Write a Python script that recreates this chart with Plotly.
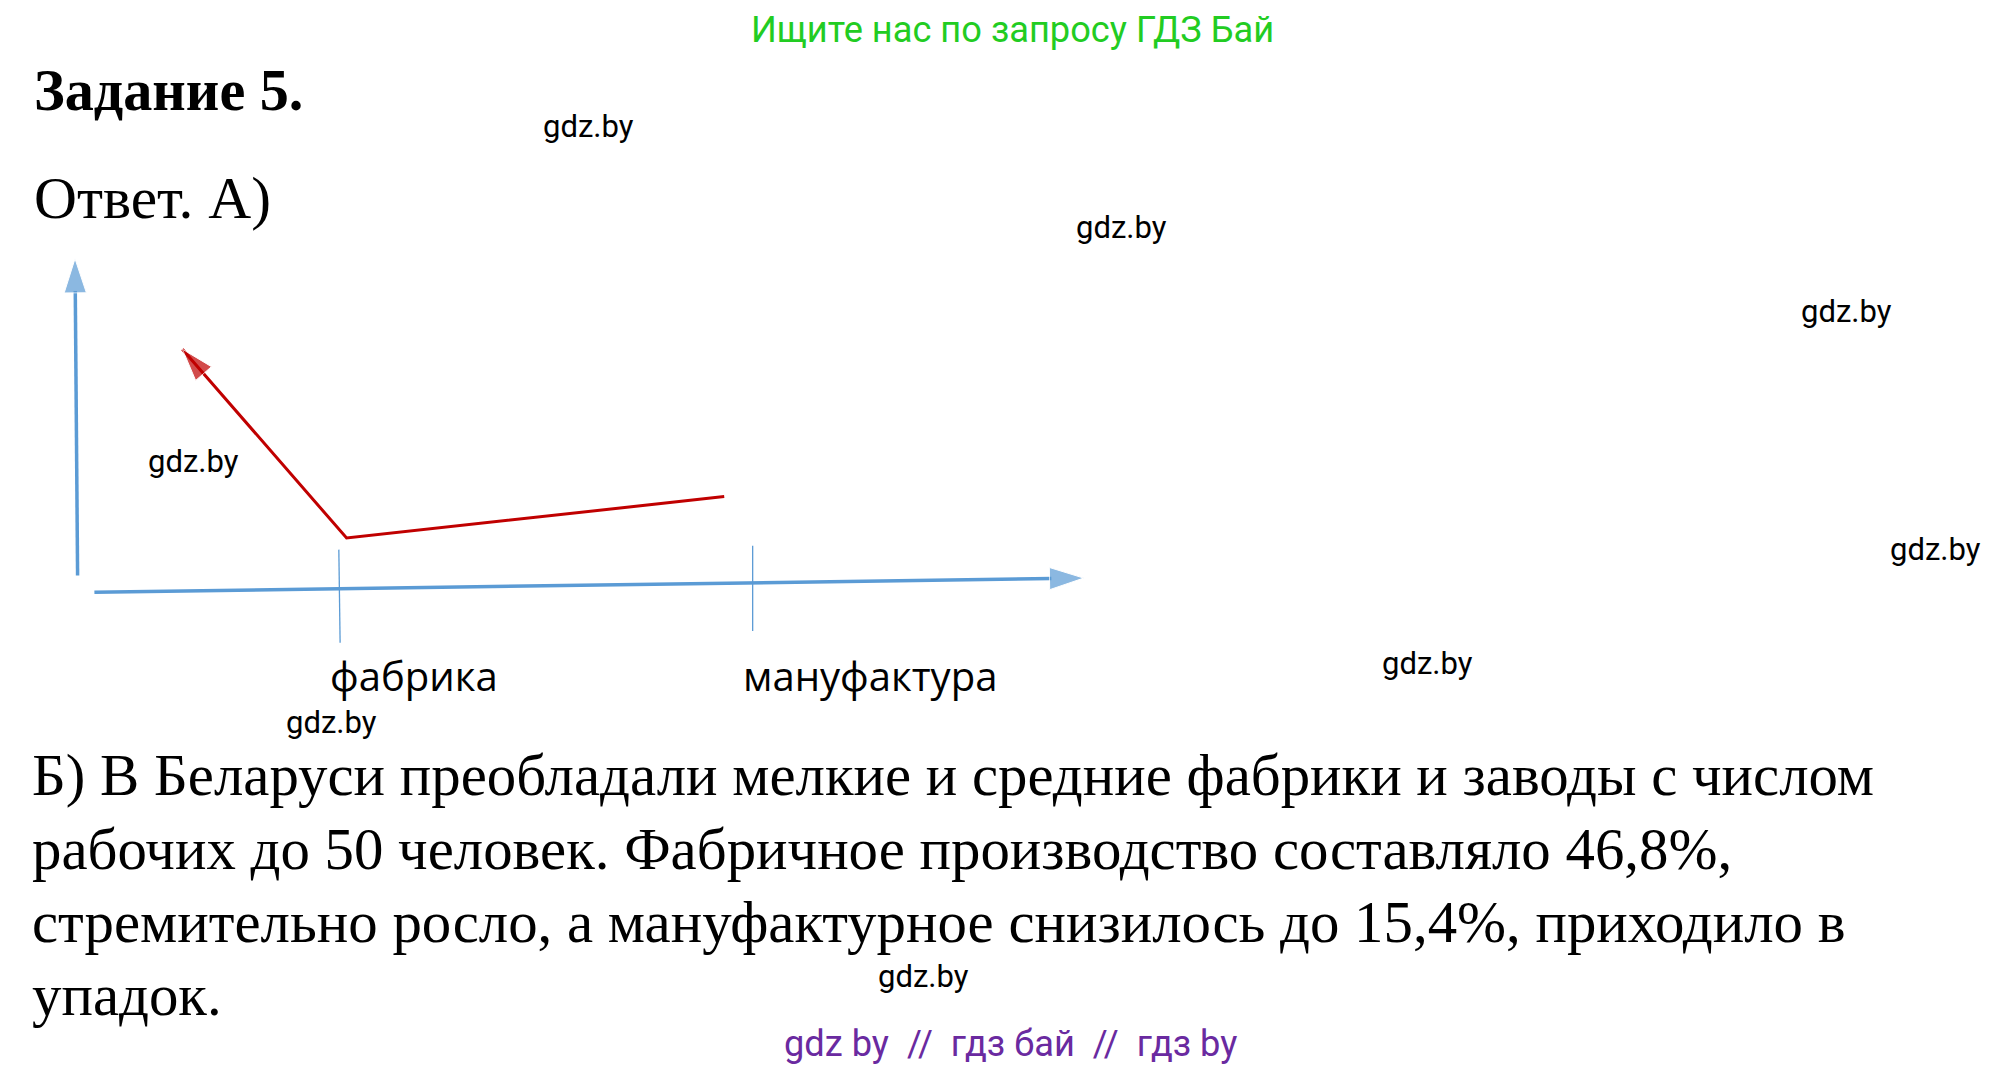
import plotly.graph_objects as go

# reference drawn in a 1555x836 frame, y grows downward
W, H = 1555, 836

# axes of the sketch
y_axis_x = [60, 58]
y_axis_y = [445, 200]
x_axis_x = [73, 838]
x_axis_y = [458, 447]
tick_x = [[262, 263], [582, 582]]
tick_y = [[425, 497], [422, 488]]
tick_labels = ["фабрика", "мануфактура"]
tick_label_x = [320, 673]

# red curve: manufactory -> factory -> up
red_x = [560, 268, 141]
red_y = [384, 416, 270]

body_lines = [
    "Б) В Беларуси преобладали мелкие и средние фабрики и заводы с числом",
    "рабочих до 50 человек. Фабричное производство составляло 46,8%,",
    "стремительно росло, а мануфактурное снизилось до 15,4%, приходило в",
    "упадок.",
]
body_y = [600, 657, 713, 770]

marks_x = [455, 867, 1428, 150, 1497, 1104, 256, 714]
marks_y = [98, 176, 241, 357, 425, 513, 559, 755]

blue = "#5b9bd5"
red = "#c00000"

fig = go.Figure()
fig.add_trace(go.Scatter(x=y_axis_x, y=y_axis_y, mode="lines+markers",
                         line=dict(color=blue, width=3.5),
                         marker=dict(symbol="arrow", size=[0, 36], angleref="previous", color=blue)))
fig.add_trace(go.Scatter(x=x_axis_x, y=x_axis_y, mode="lines+markers",
                         line=dict(color=blue, width=3.5),
                         marker=dict(symbol="arrow", size=[0, 36], angleref="previous", color=blue)))
for tx, ty in zip(tick_x, tick_y):
    fig.add_trace(go.Scatter(x=tx, y=ty, mode="lines", line=dict(color=blue, width=1.3)))
fig.add_trace(go.Scatter(x=red_x, y=red_y, mode="lines+markers",
                         line=dict(color=red, width=3),
                         marker=dict(symbol="arrow", size=[0, 0, 34], angleref="previous", color=red)))

S = 2011 / W
off = 8 / S  # page body margin
ann = []
ann.append(dict(x=783, y=23, text="Ищите нас по запросу ГДЗ Бай", xanchor="center", yanchor="middle",
                font=dict(family="Roboto", size=28 * S, color="#22cc22")))
ann.append(dict(x=25, y=70, text="<b>Задание 5.</b>", xanchor="left", yanchor="middle",
                font=dict(family="Liberation Serif", size=45 * S, color="black")))
ann.append(dict(x=25, y=153, text="Ответ. А)", xanchor="left", yanchor="middle",
                font=dict(family="Liberation Serif", size=46 * S, color="black")))
for lx, lt in zip(tick_label_x, tick_labels):
    ann.append(dict(x=lx, y=522, text=lt, xanchor="center", yanchor="middle",
                    font=dict(family="Open Sans", size=31 * S, color="black")))
for ly, lt in zip(body_y, body_lines):
    ann.append(dict(x=23, y=ly, text=lt, xanchor="left", yanchor="middle",
                    font=dict(family="Liberation Serif", size=45.5 * S, color="black")))
for mx, my in zip(marks_x, marks_y):
    ann.append(dict(x=mx, y=my, text="gdz.by", xanchor="center", yanchor="middle",
                    font=dict(family="Roboto", size=24 * S, color="black")))
ann.append(dict(x=781, y=807, text="gdz by  //  гдз бай  //  гдз by", xanchor="center", yanchor="middle",
                font=dict(family="Roboto", size=28 * S, color="#6a2aa0")))
for a in ann:
    a.update(xref="x", yref="y", showarrow=False)

fw, fh = 1995, 1058
fig.update_layout(width=fw, height=fh, margin=dict(l=0, r=0, t=0, b=0),
                  paper_bgcolor="white", plot_bgcolor="white", showlegend=False,
                  annotations=ann,
                  xaxis=dict(range=[off, off + fw / S], visible=False, fixedrange=True),
                  yaxis=dict(range=[off + fh / S, off], visible=False, fixedrange=True))
fig.write_html("out.html")
